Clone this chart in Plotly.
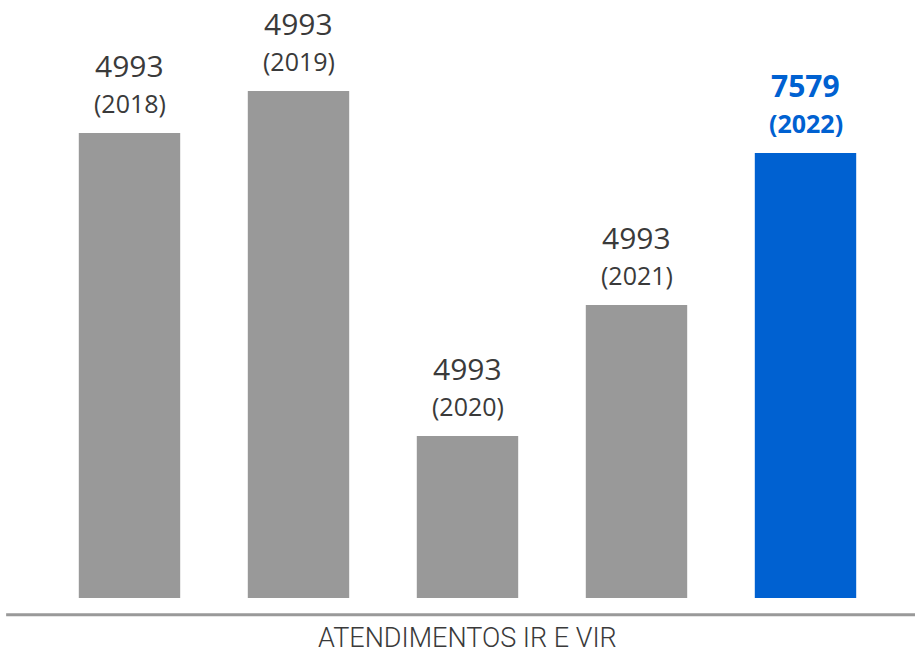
import plotly.graph_objects as go

# 值从图上读出（柱高为像素比例，标签文字照原图）
years = ["2018", "2019", "2020", "2021", "2022"]
bar_heights = [465, 507, 162, 293, 445]
value_labels = ["4993", "4993", "4993", "4993", "7579"]
bar_colors = ["#999999", "#999999", "#999999", "#999999", "#0061D1"]
axis_title = "ATENDIMENTOS IR E VIR"

TEXT_GRAY = "#3a3a3a"
FONT = "Open Sans, Noto Sans, sans-serif"

fig = go.Figure()
fig.add_trace(go.Bar(
    x=years, y=bar_heights,
    marker=dict(color=bar_colors, line=dict(width=0)),
    hoverinfo="skip", showlegend=False
))

# 柱顶标签：数值 + (年份)，x 用类别序号
for i, (yr, h, val, col) in enumerate(zip(years, bar_heights, value_labels, bar_colors)):
    highlight = col != "#999999"
    txt_col = col if highlight else TEXT_GRAY
    fig.add_annotation(
        x=i, y=h, text=f"<b>{val}</b>" if highlight else val,
        xanchor="center", yanchor="bottom", yshift=45, showarrow=False,
        font=dict(family=FONT, size=30, color=txt_col)
    )
    fig.add_annotation(
        x=i, y=h, text=f"<b>({yr})</b>" if highlight else f"({yr})",
        xanchor="center", yanchor="bottom", yshift=11, showarrow=False,
        font=dict(family=FONT, size=25, color=txt_col)
    )

# 底部灰线 + 标题
fig.add_shape(type="line", xref="paper", yref="paper",
              x0=-0.046, x1=1.03, y0=-0.028, y1=-0.028,
              line=dict(color="#999999", width=3))
fig.add_annotation(
    xref="paper", yref="paper", x=0.5, y=-0.0965,
    text=axis_title, showarrow=False, xanchor="center", yanchor="bottom",
    font=dict(family="Roboto, sans-serif", size=27, weight=300, color=TEXT_GRAY)
)

fig.update_layout(
    width=915, height=656,
    margin=dict(l=45, r=25, t=0, b=58),
    bargap=0.4,
    plot_bgcolor="white", paper_bgcolor="white",
    xaxis=dict(visible=False, type="category", range=[-0.5, 4.5]),
    yaxis=dict(visible=False, range=[0, 598]),
)

fig.write_html("out.html", config={"displayModeBar": False},
               post_script="document.body.style.margin='0';")
